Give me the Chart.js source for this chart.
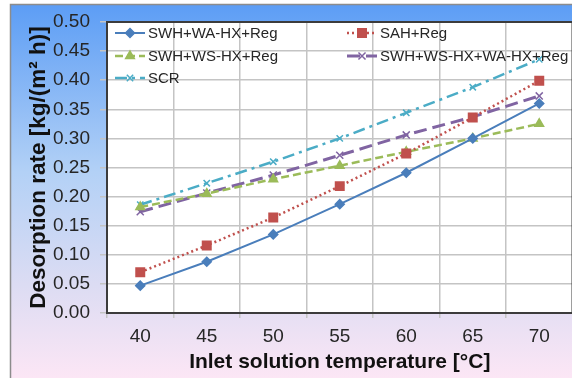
<!DOCTYPE html>
<html>
<head>
<meta charset="utf-8">
<script src="https://cdn.jsdelivr.net/npm/chart.js@4.4.1/dist/chart.umd.min.js"></script>
<style>
  html, body { margin: 0; padding: 0; overflow: hidden; background: #fff; }
  canvas { display: block; }
</style>
</head>
<body>
<canvas id="desorptionChart" width="580" height="378"></canvas>
<script>
// Inlet solution temperature [°C]
const temps = ['40', '45', '50', '55', '60', '65', '70'];

// Desorption rate [kg/(m2 h)] per configuration
const swhWaHx   = [0.047, 0.088, 0.135, 0.187, 0.241, 0.300, 0.360];
const sahReg    = [0.070, 0.116, 0.164, 0.218, 0.274, 0.336, 0.399];
const swhWsHx   = [0.182, 0.205, 0.230, 0.253, 0.277, 0.300, 0.325];
const swhWsWaHx = [0.174, 0.206, 0.237, 0.271, 0.306, 0.337, 0.373];
const scr       = [0.186, 0.223, 0.260, 0.300, 0.344, 0.388, 0.436];

const seriesNames = ['SWH+WA-HX+Reg', 'SAH+Reg', 'SWH+WS-HX+Reg', 'SWH+WS-HX+WA-HX+Reg', 'SCR'];

// background gradient + white plot area
const backdrop = {
  id: 'backdrop',
  beforeDraw(chart) {
    const { ctx, width, height, chartArea } = chart;
    ctx.save();
    ctx.fillStyle = '#ffffff';
    ctx.fillRect(0, 0, width, height);
    const g = ctx.createLinearGradient(0, 4, 0, height);
    g.addColorStop(0, '#5c9df5');
    g.addColorStop(0.45, '#b3d1f6');
    g.addColorStop(0.75, '#dcdcf3');
    g.addColorStop(1, '#fce6f5');
    ctx.fillStyle = g;
    ctx.fillRect(10, 4, width - 10, height - 4);
    ctx.strokeStyle = '#8c8c8c';
    ctx.lineWidth = 1.5;
    ctx.beginPath();
    ctx.moveTo(10.5, height);
    ctx.lineTo(10.5, 4.5);
    ctx.lineTo(width, 4.5);
    ctx.stroke();
    ctx.fillStyle = '#ffffff';
    ctx.fillRect(chartArea.left, chartArea.top, chartArea.right - chartArea.left, chartArea.bottom - chartArea.top);
    ctx.restore();
  },
  afterDatasetsDraw(chart) {
    const { ctx, chartArea } = chart;
    ctx.save();
    ctx.strokeStyle = '#3c3c3c';
    ctx.lineWidth = 2;
    ctx.strokeRect(chartArea.left, chartArea.top, chartArea.right - chartArea.left, chartArea.bottom - chartArea.top);
    ctx.restore();
  }
};

// legend drawn inside the plot, two columns like the original
const insideLegend = {
  id: 'insideLegend',
  afterDraw(chart) {
    const { ctx } = chart;
    const slots = [[115, 33], [347, 33], [115, 56], [347, 56], [115, 78]];
    ctx.save();
    chart.data.datasets.forEach((ds, i) => {
      const [x, y] = slots[i];
      ctx.strokeStyle = ds.borderColor;
      ctx.lineWidth = ds.borderWidth;
      ctx.setLineDash(ds.borderDash || []);
      ctx.beginPath();
      ctx.moveTo(x, y);
      ctx.lineTo(x + 30, y);
      ctx.stroke();
      ctx.setLineDash([]);
      ctx.fillStyle = ds.pointBackgroundColor;
      ctx.strokeStyle = ds.pointBorderColor;
      ctx.lineWidth = ds.pointBorderWidth;
      Chart.helpers.drawPoint(ctx, { pointStyle: ds.pointStyle, radius: ds.pointRadius, rotation: 0, borderWidth: ds.pointBorderWidth }, x + 15, y);
      ctx.fillStyle = '#262626';
      ctx.font = '15px "Liberation Sans", Arial, sans-serif';
      ctx.textBaseline = 'middle';
      ctx.fillText(ds.label, x + 33, y + 1);
    });
    ctx.restore();
  }
};

function series(label, data, color, dash, width, style, radius) {
  return {
    label: label,
    data: data,
    borderColor: color,
    backgroundColor: color,
    borderWidth: width,
    borderDash: dash,
    pointStyle: style,
    pointRadius: radius,
    pointHoverRadius: radius,
    pointBackgroundColor: color,
    pointBorderColor: color,
    pointBorderWidth: 1.5,
    tension: 0,
    fill: false
  };
}

const ctx = document.getElementById('desorptionChart').getContext('2d');
new Chart(ctx, {
  type: 'line',
  data: {
    labels: temps,
    datasets: [
      series(seriesNames[0], swhWaHx, '#4a7ebb', [], 2, 'rectRot', 4.5),
      series(seriesNames[1], sahReg, '#c0504d', [2, 3], 2.5, 'rect', 6),
      series(seriesNames[2], swhWsHx, '#9bbb59', [8, 4], 2.5, 'triangle', 5),
      series(seriesNames[3], swhWsWaHx, '#8064a2', [13, 6], 3, 'crossRot', 5),
      series(seriesNames[4], scr, '#4bacc6', [12, 5, 3, 5], 2.5, 'crossRot', 4.5)
    ]
  },
  options: {
    responsive: false,
    animation: false,
    devicePixelRatio: 1,
    layout: { padding: { left: 10, top: 22, right: 6, bottom: 0 } },
    plugins: {
      legend: { display: false },
      tooltip: { enabled: false }
    },
    scales: {
      x: {
        offset: true,
        grid: { offset: true, color: '#c4c4c4', lineWidth: 1.5, tickLength: 5 },
        border: { display: false },
        ticks: { color: '#262626', padding: 7, maxRotation: 0, font: { family: '"Liberation Sans", Arial, sans-serif', size: 19 } },
        title: {
          display: true,
          text: 'Inlet solution temperature [°C]',
          color: '#111',
          padding: { top: 0, bottom: 3 },
          font: { family: '"Liberation Sans", Arial, sans-serif', size: 21, weight: 'bold' }
        },
        afterFit: scale => { scale.height = 65; }
      },
      y: {
        min: 0,
        max: 0.5,
        grid: { color: '#c4c4c4', lineWidth: 1.5, tickLength: 7 },
        border: { display: false },
        ticks: {
          stepSize: 0.05,
          color: '#262626',
          padding: 10,
          font: { family: '"Liberation Sans", Arial, sans-serif', size: 19 },
          callback: v => v.toFixed(2)
        },
        title: {
          display: true,
          text: 'Desorption rate [kg/(m² h)]',
          color: '#111',
          padding: { top: 15, bottom: 0 },
          font: { family: '"Liberation Sans", Arial, sans-serif', size: 22.5, weight: 'bold' }
        },
        afterFit: scale => { scale.width = 97; }
      }
    }
  },
  plugins: [backdrop, insideLegend]
});
</script>
</body>
</html>
